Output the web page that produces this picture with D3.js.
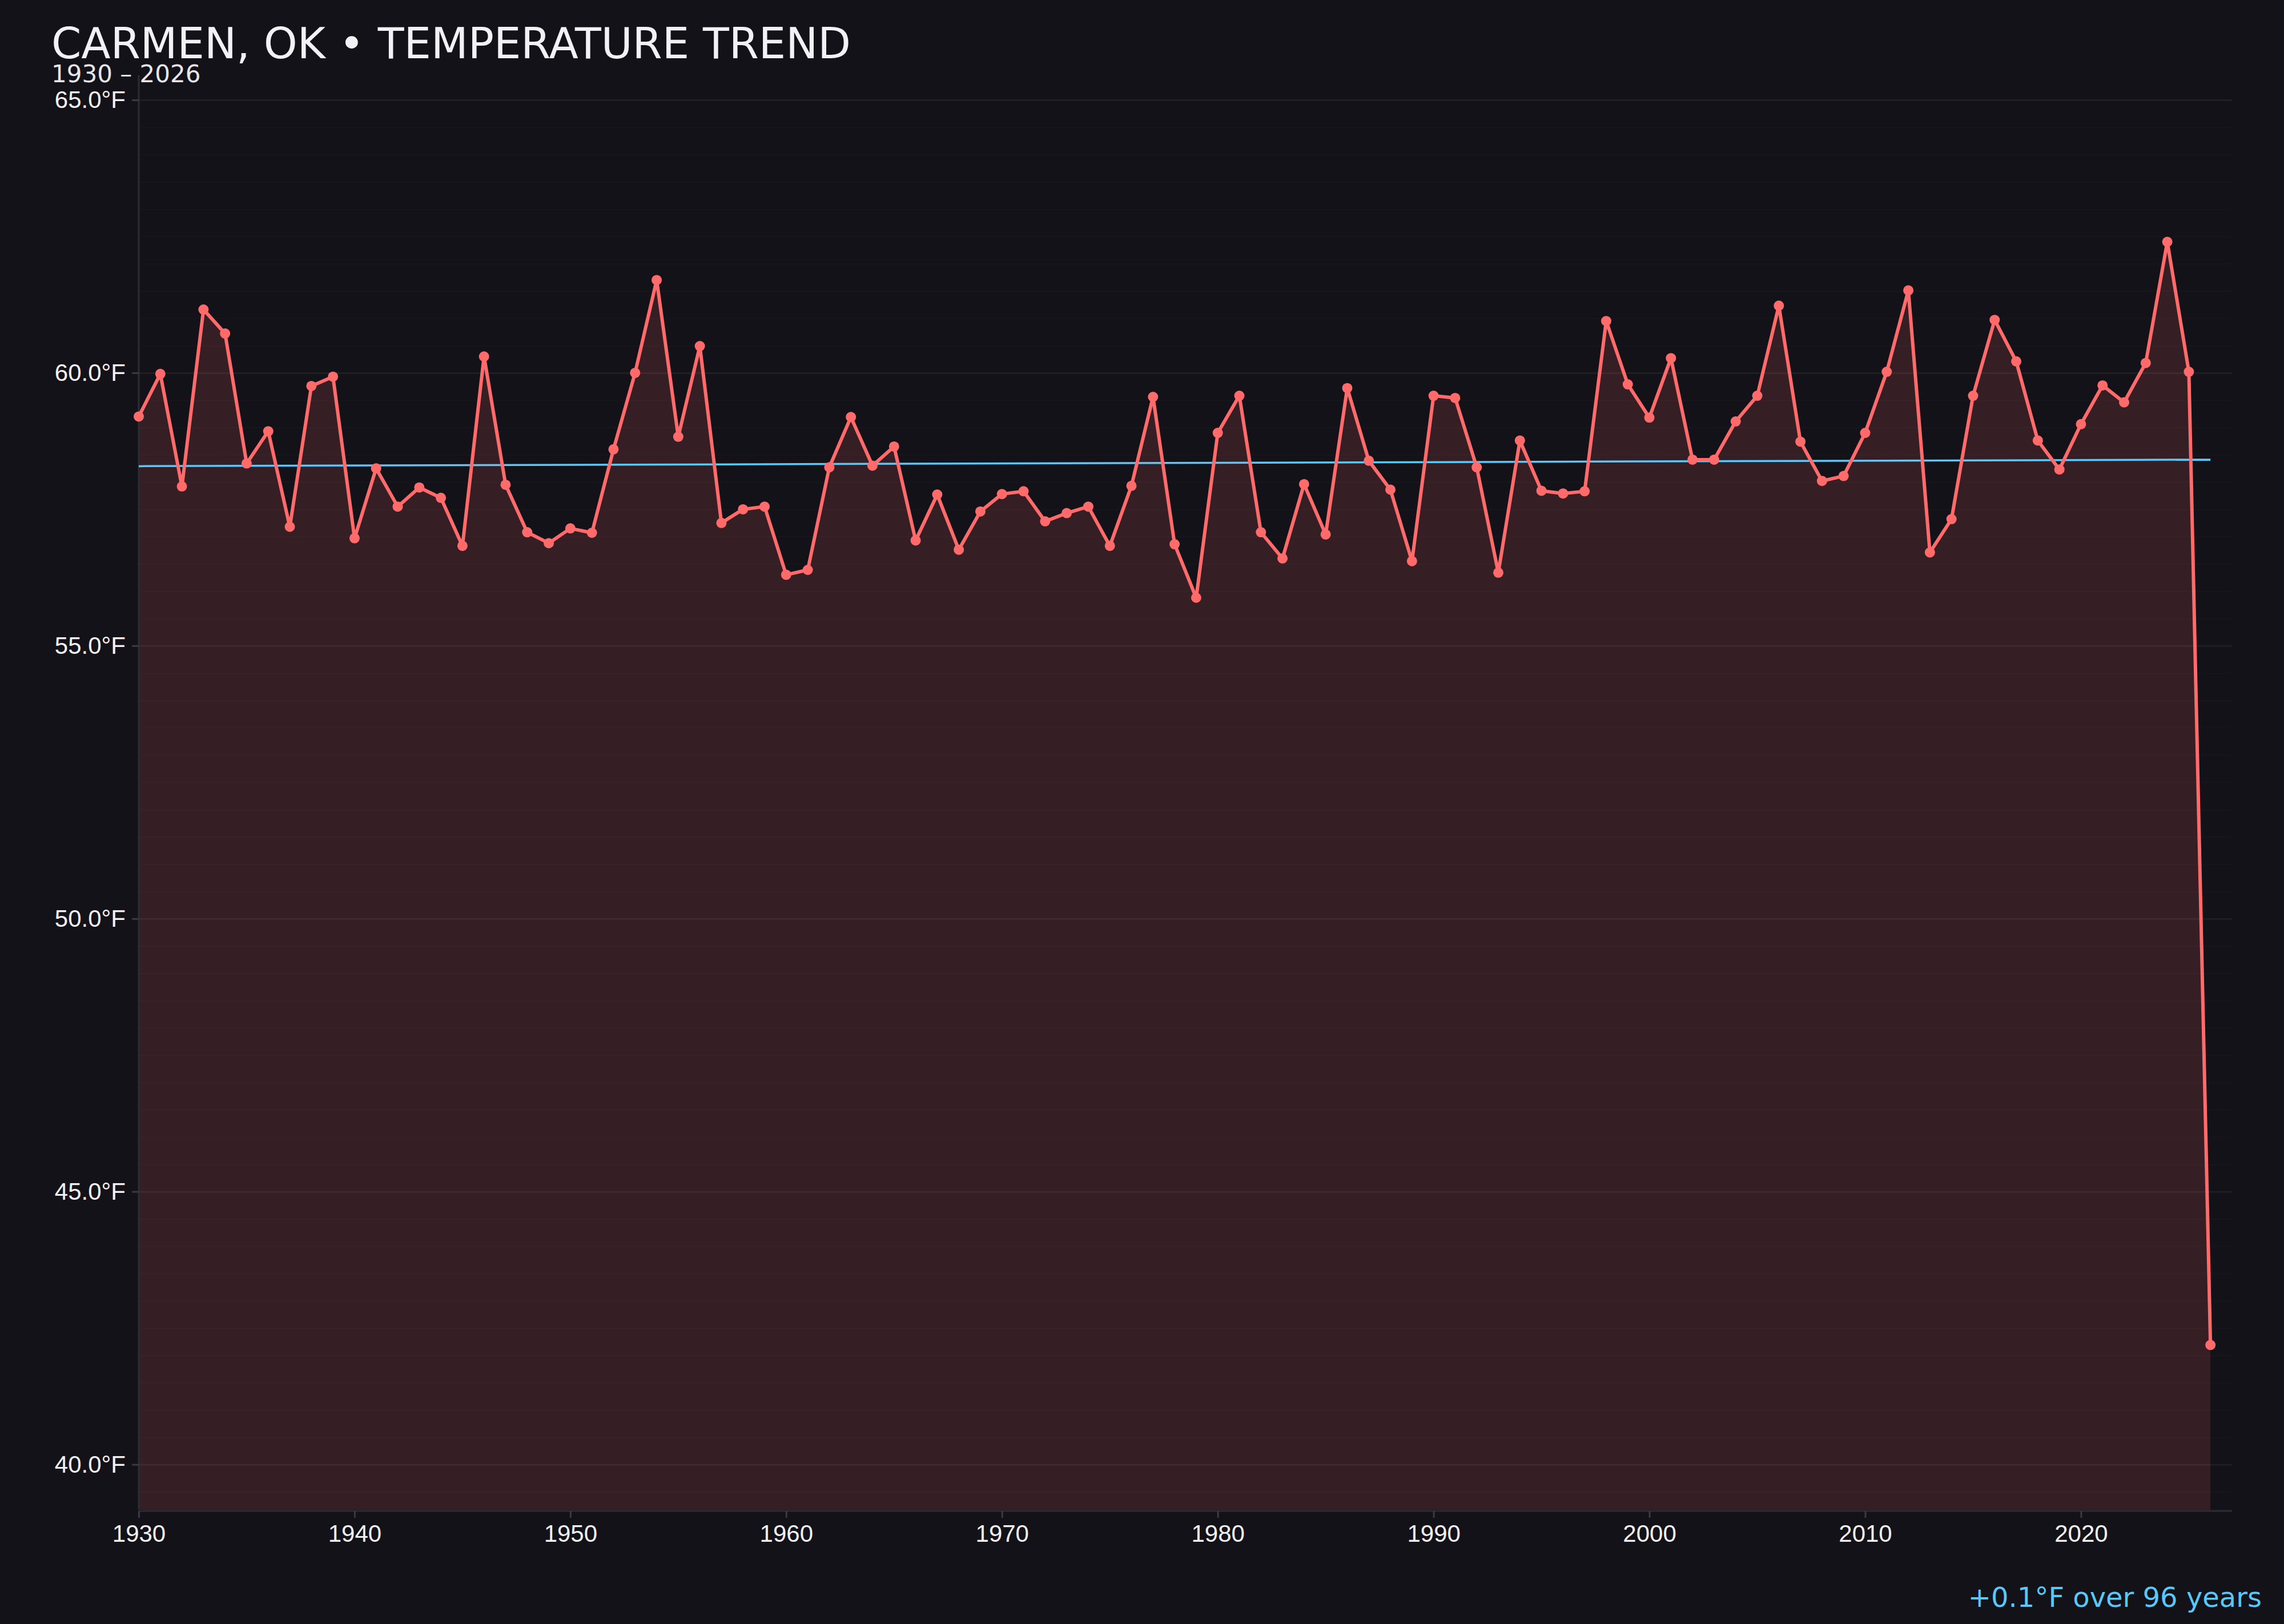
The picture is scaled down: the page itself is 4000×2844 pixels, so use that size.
<!DOCTYPE html>
<html>
<head>
<meta charset="utf-8">
<script src="https://cdn.jsdelivr.net/npm/d3@7"></script>
<style>
  html, body { margin: 0; padding: 0; background: #131218; }
  svg { display: block; font-family: "DejaVu Sans", sans-serif; }
  .axis path.domain { stroke: #2c2c35; stroke-width: 3; }
  .axis line { stroke: #3a3a44; stroke-width: 3; }
  .axis text { fill: #f2f2f6; font-size: 42px; }
  .grid line { stroke: #ffffff; stroke-opacity: 0.018; stroke-width: 2; }
  .grid .major line { stroke-opacity: 0.05; stroke-width: 3; }
  .grid path.domain { display: none; }
</style>
</head>
<body>
<div id="chart"></div>
<script>
// yearly mean temperature
var years = [
  1930,1931,1932,1933,1934,1935,1936,1937,1938,1939,
  1940,1941,1942,1943,1944,1945,1946,1947,1948,1949,
  1950,1951,1952,1953,1954,1955,1956,1957,1958,1959,
  1960,1961,1962,1963,1964,1965,1966,1967,1968,1969,
  1970,1971,1972,1973,1974,1975,1976,1977,1978,1979,
  1980,1981,1982,1983,1984,1985,1986,1987,1988,1989,
  1990,1991,1992,1993,1994,1995,1996,1997,1998,1999,
  2000,2001,2002,2003,2004,2005,2006,2007,2008,2009,
  2010,2011,2012,2013,2014,2015,2016,2017,2018,2019,
  2020,2021,2022,2023,2024,2025,2026
];
var temps = [
  59.20,59.98,57.92,61.16,60.72,58.34,58.93,57.18,59.76,59.93,
  56.97,58.25,57.55,57.90,57.71,56.83,60.30,57.95,57.08,56.88,
  57.15,57.07,58.60,60.00,61.70,58.83,60.49,57.25,57.50,57.55,
  56.30,56.39,58.27,59.19,58.30,58.65,56.93,57.77,56.76,57.46,
  57.78,57.83,57.28,57.43,57.55,56.83,57.93,59.56,56.86,55.88,
  58.90,59.58,57.08,56.60,57.96,57.04,59.72,58.39,57.86,56.55,
  59.58,59.54,58.27,56.34,58.76,57.84,57.79,57.83,60.95,59.79,
  59.18,60.27,58.41,58.41,59.11,59.58,61.23,58.74,58.02,58.11,
  58.90,60.02,61.51,56.71,57.32,59.58,60.97,60.21,58.76,58.23,
  59.06,59.77,59.46,60.18,62.40,60.02,42.19
];
// trend line end points
var trendYears = [1930, 2026];
var trendTemps = [58.29, 58.41];

var xTicks = [1930,1940,1950,1960,1970,1980,1990,2000,2010,2020];
var yTicks = [40,45,50,55,60,65];
var gridTicks = [39.5,40,40.5,41,41.5,42,42.5,43,43.5,44,44.5,45,45.5,46,46.5,47,47.5,48,48.5,49,49.5,
                 50,50.5,51,51.5,52,52.5,53,53.5,54,54.5,55,55.5,56,56.5,57,57.5,58,58.5,59,59.5,
                 60,60.5,61,61.5,62,62.5,63,63.5,64,64.5,65];

var title = "CARMEN, OK • TEMPERATURE TREND";
var subtitle = "1930 – 2026";
var footnote = "+0.1°F over 96 years";

var W = 4000, H = 2844;
var margin = {top:132, left:243, right:91, bottom:200};
var innerW = W - margin.left - margin.right;
var innerH = H - margin.top - margin.bottom;

var data = years.map(function(y,i){ return {year:y, value:temps[i]}; });
var trend = trendYears.map(function(y,i){ return {year:y, value:trendTemps[i]}; });

var svg = d3.select("#chart").append("svg")
            .attr("width", W)
            .attr("height", H);

svg.append("rect").attr("width", W).attr("height", H).attr("fill", "#131218");

var g = svg.append("g")
           .attr("transform", "translate(" + margin.left + "," + margin.top + ")");

var xScale = d3.scaleLinear().domain([1930, 2027]).range([0, innerW]);
var yScale = d3.scaleLinear().domain([39.17, 65.45]).range([innerH, 0]);

// fill under the line
var area = d3.area()
             .x(function(d){ return xScale(d.year); })
             .y0(innerH)
             .y1(function(d){ return yScale(d.value); });

g.append("path")
 .attr("d", area(data))
 .attr("fill", "#ff6b6b")
 .attr("fill-opacity", 0.15);

// faint grid every half degree
var grid = g.append("g")
            .attr("class", "grid")
            .call(d3.axisLeft(yScale).tickValues(gridTicks).tickSize(-innerW).tickFormat(""));
grid.selectAll(".tick")
    .classed("major", function(d){ return d % 5 === 0; });

// axes
var yAxis = g.append("g")
             .attr("class", "axis")
             .call(d3.axisLeft(yScale).tickValues(yTicks).tickSize(12).tickPadding(11)
                     .tickFormat(function(d){ return d.toFixed(1) + "°F"; }));
yAxis.select(".domain").attr("d", "M0,0V" + innerH);

var xAxis = g.append("g")
             .attr("class", "axis")
             .attr("transform", "translate(0," + (innerH + 2) + ")")
             .call(d3.axisBottom(xScale).tickValues(xTicks).tickSize(12).tickPadding(12)
                     .tickFormat(d3.format("d")));
xAxis.select(".domain").attr("d", "M0,0H" + innerW);

// trend
var line = d3.line()
             .x(function(d){ return xScale(d.year); })
             .y(function(d){ return yScale(d.value); });

g.append("path")
 .attr("d", line(trend))
 .attr("fill", "none")
 .attr("stroke", "#5ac8fa")
 .attr("stroke-width", 3.5);

// temperature line + points
g.append("path")
 .attr("d", line(data))
 .attr("fill", "none")
 .attr("stroke", "#ff6b6b")
 .attr("stroke-width", 6)
 .attr("stroke-linejoin", "round");

g.selectAll("circle.pt")
 .data(data)
 .enter().append("circle")
 .attr("class", "pt")
 .attr("cx", function(d){ return xScale(d.year); })
 .attr("cy", function(d){ return yScale(d.value); })
 .attr("r", 9)
 .attr("fill", "#ff6b6b");

// titles
svg.append("text")
   .attr("x", 90).attr("y", 102)
   .attr("fill", "#f2f2f6")
   .style("font-size", "75px")
   .text(title);

svg.append("text")
   .attr("x", 90).attr("y", 144)
   .attr("fill", "#e6e6ec")
   .style("font-size", "42px")
   .text(subtitle);

svg.append("text")
   .attr("x", 3961).attr("y", 2814)
   .attr("text-anchor", "end")
   .attr("fill", "#5ac8fa")
   .style("font-size", "48px")
   .text(footnote);
</script>
</body>
</html>
